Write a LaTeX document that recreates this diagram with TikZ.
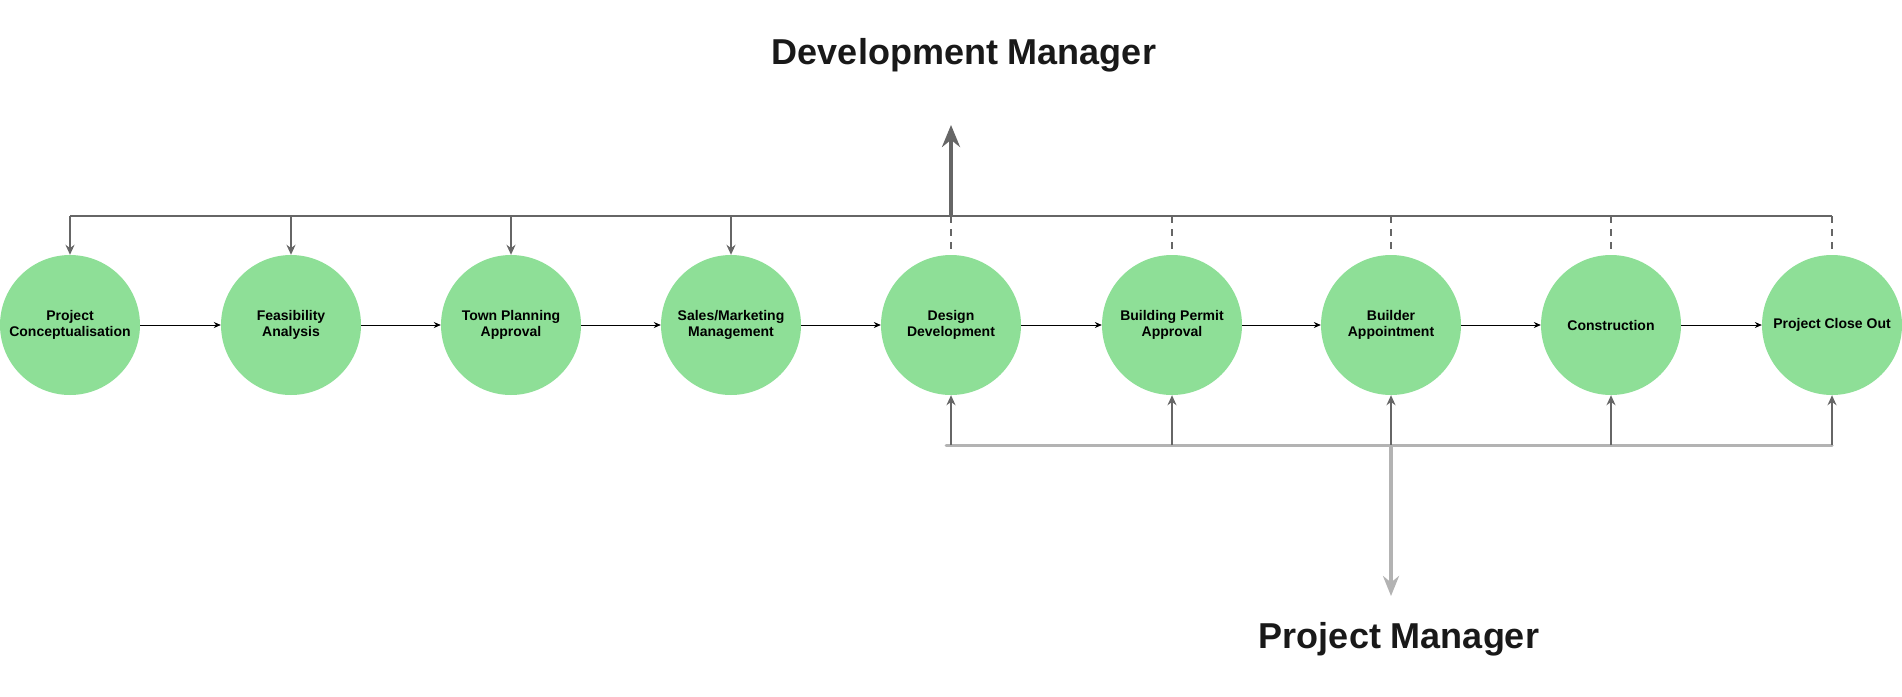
\documentclass[tikz,border=0pt]{standalone}
\usepackage{fontspec}
\setmainfont{Liberation Sans}
\usetikzlibrary{arrows.meta}
\definecolor{cgreen}{HTML}{8EDF97}
\definecolor{dgray}{HTML}{666666}
\definecolor{lgray}{HTML}{B3B3B3}
\begin{document}
\begin{tikzpicture}[x=1pt,y=-1pt,
  stage/.style={circle,fill=cgreen,minimum size=140pt,inner sep=0pt,align=center,font=\bfseries\fontsize{14}{16}\selectfont},
  flow/.style={-{Stealth[length=7pt,width=6pt]},black,line width=0.8pt},
  dm/.style={-{Stealth[length=10pt,width=9pt]},dgray,line width=2pt},
  dashline/.style={dgray,line width=2pt,dash pattern=on 7pt off 6pt},
  up/.style={-{Stealth[length=10pt,width=9pt]},dgray,line width=2.2pt},
  ttl/.style={font=\bfseries\fontsize{36}{40}\selectfont,text=black!90}]
\useasboundingbox (0,0) rectangle (1902,696);
\foreach \n/\x/\t in {1/70/{Project\\Conceptualisation},2/291/{Feasibility\\Analysis},3/511/{Town Planning\\Approval},4/731/{Sales/Marketing\\Management},5/951/{Design\\Development},6/1172/{Building Permit\\Approval},7/1391/{Builder\\Appointment},8/1611/{Construction},9/1832/{Project Close Out}}
  \node[stage] (s\n) at (\x,325) {\t};
\foreach \a/\b in {1/2,2/3,3/4,4/5,5/6,6/7,7/8,8/9}
  \draw[flow] (s\a) -- (s\b);
\coordinate (tl) at (70,216);
\coordinate (tr) at (1832,216);
\draw[dgray,line width=2.5pt] (tl) -- (tr);
\foreach \n in {1,2,3,4}
  \draw[dm] (s\n |- tl) -- (s\n.north);
\foreach \n in {5,6,7,8,9}
  \draw[dashline] (s\n |- tl) -- (s\n.north);
\coordinate (dmtop) at (951,125);
\draw[-{Stealth[length=22pt,width=18pt]},dgray,line width=4.5pt] (s5 |- tl) -- (dmtop);
\node[ttl] (dmt) at (964,55) {Development Manager};
\coordinate (bl) at (946,445);
\coordinate (br) at (1832,445);
\draw[lgray,line width=3pt,line cap=round] (bl) -- (br);
\foreach \n in {5,6,7,8,9}
  \draw[up] (s\n |- bl) -- (s\n.south);
\coordinate (pmb) at (1391,596);
\draw[-{Stealth[length=20pt,width=16pt]},lgray,line width=4pt] (s7 |- bl) -- (pmb);
\node[ttl] (pmt) at (1399,639) {Project Manager};
\end{tikzpicture}
\end{document}
